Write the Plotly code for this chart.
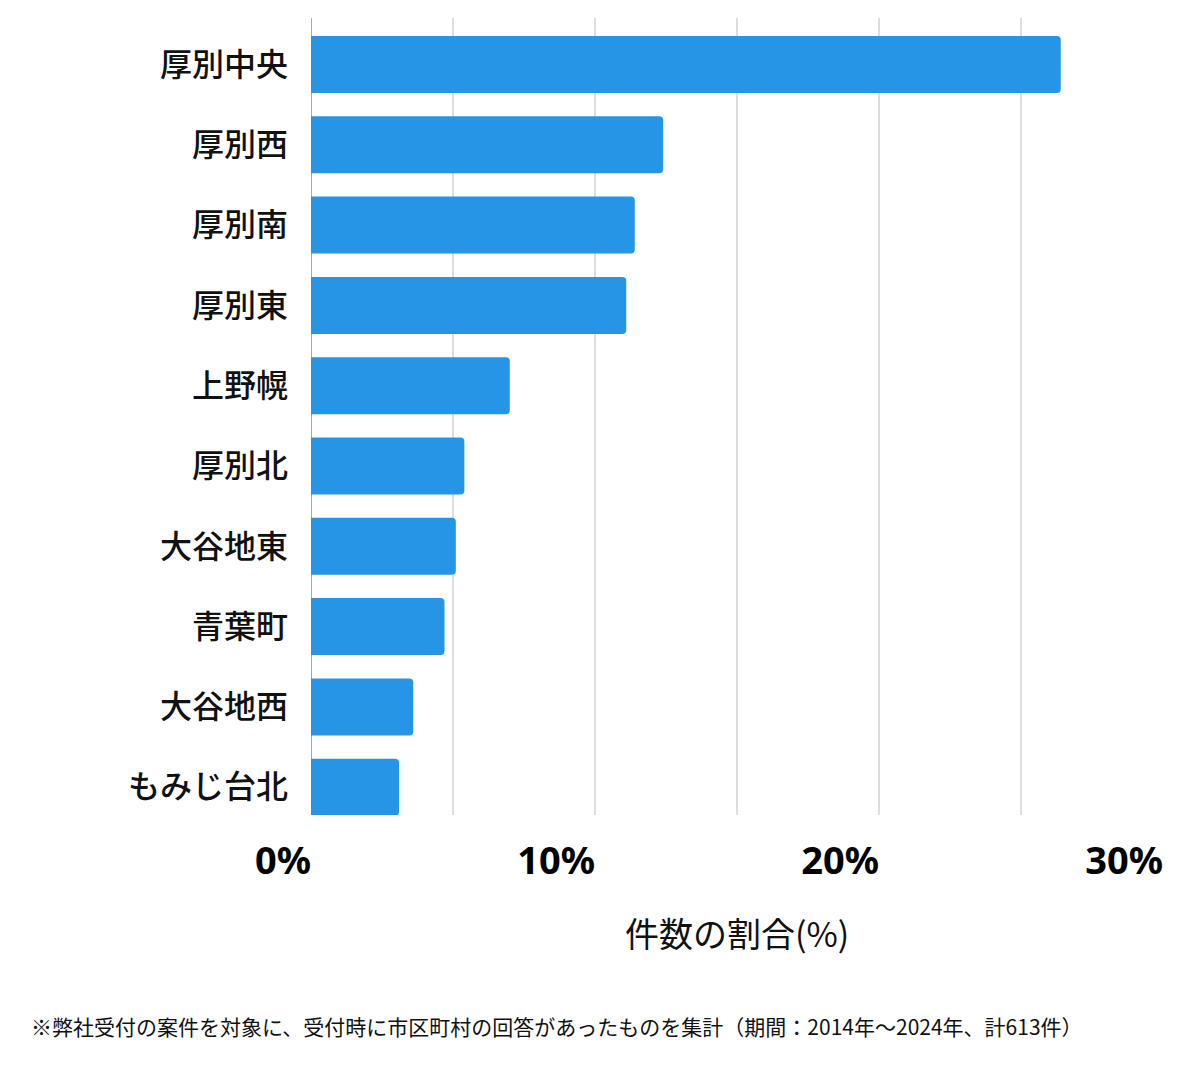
import plotly.graph_objects as go

# data (share of 613 cases, %)
areas = ["厚別中央", "厚別西", "厚別南", "厚別東", "上野幌",
         "厚別北", "大谷地東", "青葉町", "大谷地西", "もみじ台北"]
shares = [26.4, 12.4, 11.4, 11.1, 7.0, 5.4, 5.1, 4.7, 3.6, 3.1]

tick_vals = [0, 5, 10, 15, 20, 25, 30]
tick_text = ["0%", "", "10%", "", "20%", "", "30%"]

font_jp = "Noto Sans CJK JP"

fig = go.Figure()
fig.add_trace(go.Bar(
    x=shares, y=areas, orientation="h",
    marker=dict(color="#2795E5", line=dict(width=0)),
    hoverinfo="skip",
))

# page body has an 8px margin, so offsets are shifted by 8
fig.update_layout(
    width=1200, height=1069,
    margin=dict(l=303, r=45, t=10, b=262),
    plot_bgcolor="white", paper_bgcolor="white",
    bargap=0.29, barcornerradius=4,
    showlegend=False,
    font=dict(family=font_jp, color="#111"),
)

fig.update_xaxes(
    range=[0, 30], tickvals=tick_vals, ticktext=tick_text,
    ticklabelposition="outside left", ticklabelstandoff=20,
    tickfont=dict(size=38, family="Noto Sans", weight="bold", color="#000"),
    showgrid=True, gridcolor="#dddddd", gridwidth=1.5,
    zeroline=True, zerolinecolor="#aaaaaa", zerolinewidth=1,
    showline=False, fixedrange=True,
)
# last bar sits on the bottom of the plot, a gap is left above the first
fig.update_yaxes(
    range=[9.346, -0.579], ticklabelstandoff=22,
    tickfont=dict(size=32, family=font_jp, weight=500, color="#111"),
    showgrid=False, showline=False, fixedrange=True,
)

# axis title and footnote
fig.add_annotation(text="件数の割合(%)", xref="paper", yref="paper",
                   x=0.5, y=-0.148, xanchor="center", yanchor="middle",
                   showarrow=False, font=dict(size=34, family=font_jp, color="#111"))
fig.add_annotation(text="※弊社受付の案件を対象に、受付時に市区町村の回答があったものを集計（期間：2014年～2024年、計613件）",
                   xref="paper", yref="paper", x=-0.3315, y=-0.265,
                   xanchor="left", yanchor="middle", showarrow=False,
                   font=dict(size=21, family=font_jp, color="#111"))

fig.write_html("out.html")
